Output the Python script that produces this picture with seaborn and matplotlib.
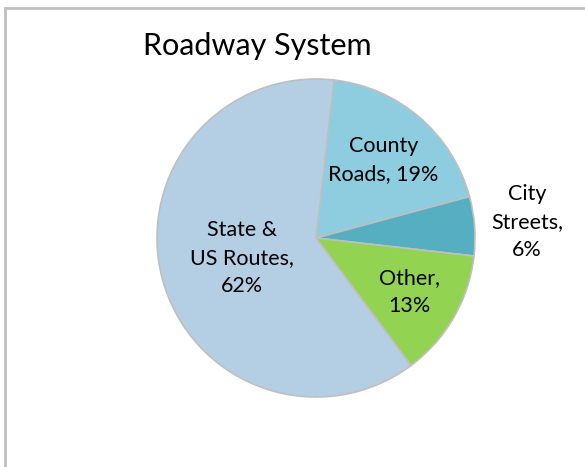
import numpy as np
import seaborn as sns
import matplotlib.pyplot as plt
from matplotlib.patches import Rectangle

sns.set_theme(style="white")
plt.rcParams['font.family'] = ['Lato', 'DejaVu Sans']

# Data
categories = ["County\nRoads, 19%", "City\nStreets,\n6%", "Other,\n13%", "State &\nUS Routes,\n62%"]
shares = [19, 6, 13, 62]
colors = sns.color_palette(["#8ecde0", "#55afc1", "#92d451", "#b4cfe4"])

# radial position of each label (fraction of radius)
label_dist = [0.65, 1.33, 0.68, 0.48]

fig = plt.figure(figsize=(5.85, 4.67), dpi=100)

# chart frame (cut off on right/bottom like the original)
fig.patches.append(Rectangle((5 / 585, -0.1), 1.2, 1 - 8 / 467 + 0.1,
                             transform=fig.transFigure, fill=False,
                             edgecolor="#bfbfbf", linewidth=2))

W, H = 585, 467
cx, cy, r = 316, 238, 159
ax = fig.add_axes([(cx - r) / W, (H - cy - r) / H, 2 * r / W, 2 * r / H])

wedges, _ = ax.pie(shares, colors=colors, startangle=83.5, counterclock=False,
                   radius=1, wedgeprops=dict(edgecolor="#bfbfbf", linewidth=1.2))

for w, lab, d in zip(wedges, categories, label_dist):
    mid = np.deg2rad((w.theta1 + w.theta2) / 2)
    ax.text(d * np.cos(mid), d * np.sin(mid), lab, ha="center", va="center",
            fontsize=15.5, color="black", linespacing=1.5, clip_on=False)

ax.set_xlim(-1, 1)
ax.set_ylim(-1, 1)
ax.set_aspect("equal")
ax.axis("off")

fig.text(257 / W, 1 - 46 / H, "Roadway System", ha="center", va="center",
         fontsize=22, color="black")

plt.savefig("out.png", dpi=100)
